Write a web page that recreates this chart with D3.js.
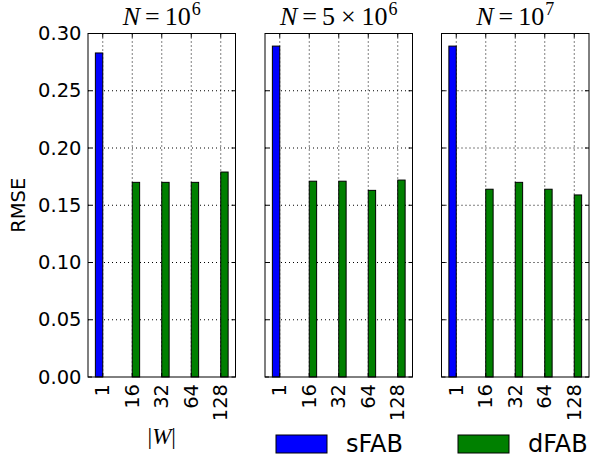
<!DOCTYPE html>
<html>
<head>
<meta charset="utf-8">
<script src="https://cdn.jsdelivr.net/npm/d3@7"></script>
<style>
  html, body { margin: 0; padding: 0; background: #fff; }
  svg { display: block; }
  text { font-family: "DejaVu Sans", sans-serif; fill: #000; }
</style>
</head>
<body>
<svg id="chart" width="592" height="459"></svg>
<script>
// Window sizes |W| on the x axis
const categories = ["1", "16", "32", "64", "128"];

// Panel titles: N = 10^6, N = 5 x 10^6, N = 10^7
const panelMantissa = ["", "5", ""];
const panelExponent = ["6", "6", "7"];

// RMSE per window size, one array per panel
const sFAB = [
  [0.283, 0, 0, 0, 0],
  [0.289, 0, 0, 0, 0],
  [0.289, 0, 0, 0, 0]
];
const dFAB = [
  [0, 0.170, 0.170, 0.170, 0.179],
  [0, 0.171, 0.171, 0.163, 0.172],
  [0, 0.164, 0.170, 0.164, 0.159]
];

const yTicks = [0.00, 0.05, 0.10, 0.15, 0.20, 0.25, 0.30];
const seriesNames = ["sFAB", "dFAB"];
const seriesColors = ["#0000ff", "#008000"];

const svg = d3.select("#chart");
const plotTop = 33.5, plotBottom = 377;
const panelLeft = [88, 265, 441.5];
const panelWidth = 147.5;
const barW = 0.25;

const y = d3.scaleLinear().domain([0, 0.30]).range([plotBottom, plotTop]);

panelLeft.forEach((left, p) => {
  const x = d3.scaleLinear().domain([-0.5, 4.5]).range([left, left + panelWidth]);
  const g = svg.append("g");

  // dotted grid
  g.selectAll("line.hgrid").data(yTicks.slice(1, -1)).join("line")
    .attr("x1", left).attr("x2", left + panelWidth)
    .attr("y1", d => y(d)).attr("y2", d => y(d))
    .attr("stroke", "#000").attr("stroke-width", 1)
    .attr("stroke-dasharray", "1,3");
  g.selectAll("line.vgrid").data(categories).join("line")
    .attr("x1", (d, i) => x(i)).attr("x2", (d, i) => x(i))
    .attr("y1", plotTop).attr("y2", plotBottom)
    .attr("stroke", "#000").attr("stroke-width", 1)
    .attr("stroke-dasharray", "1,3");

  // bars: sFAB left of each tick, dFAB right of it
  [sFAB[p], dFAB[p]].forEach((vals, s) => {
    g.selectAll("rect.s" + s).data(vals).join("rect")
      .attr("x", (d, i) => x(i + (s === 0 ? -barW : 0)))
      .attr("width", x(barW) - x(0))
      .attr("y", d => y(d))
      .attr("height", d => y(0) - y(d))
      .attr("fill", seriesColors[s])
      .attr("stroke", "#000").attr("stroke-width", 1);
  });

  // inward ticks on all four sides
  const tl = 4;
  yTicks.forEach(t => {
    g.append("line").attr("x1", left).attr("x2", left + tl).attr("y1", y(t)).attr("y2", y(t)).attr("stroke", "#000");
    g.append("line").attr("x1", left + panelWidth).attr("x2", left + panelWidth - tl).attr("y1", y(t)).attr("y2", y(t)).attr("stroke", "#000");
  });
  categories.forEach((c, i) => {
    g.append("line").attr("x1", x(i)).attr("x2", x(i)).attr("y1", plotTop).attr("y2", plotTop + tl).attr("stroke", "#000");
    g.append("line").attr("x1", x(i)).attr("x2", x(i)).attr("y1", plotBottom).attr("y2", plotBottom - tl).attr("stroke", "#000");
  });

  // frame
  g.append("rect").attr("x", left).attr("y", plotTop).attr("width", panelWidth).attr("height", plotBottom - plotTop)
    .attr("fill", "none").attr("stroke", "#000").attr("stroke-width", 1);

  // rotated x tick labels
  g.selectAll("text.xt").data(categories).join("text")
    .attr("transform", (d, i) => `translate(${x(i)},${plotBottom + 7}) rotate(-90)`)
    .attr("text-anchor", "end").attr("dominant-baseline", "central")
    .attr("font-size", "19.5px")
    .text(d => d);

  // y tick labels on the first panel only
  if (p === 0) {
    g.selectAll("text.yt").data(yTicks).join("text")
      .attr("x", left - 6.5).attr("y", d => y(d))
      .attr("text-anchor", "end").attr("dominant-baseline", "central")
      .attr("font-size", "19.5px")
      .text(d => d3.format(".2f")(d));
  }

  // panel title
  const title = g.append("text")
    .attr("x", left + panelWidth / 2).attr("y", 25)
    .attr("text-anchor", "middle")
    .style("font-family", "'Liberation Serif', serif")
    .attr("font-size", "26px");
  title.append("tspan").attr("font-style", "italic").text("N");
  title.append("tspan").attr("dx", 5).text("=");
  if (panelMantissa[p]) {
    title.append("tspan").attr("dx", 5).text(panelMantissa[p]);
    title.append("tspan").attr("dx", 6).text("×");
    title.append("tspan").attr("dx", 6).text("10");
  } else {
    title.append("tspan").attr("dx", 5).text("10");
  }
  title.append("tspan").attr("dx", 1).attr("dy", -10).attr("font-size", "18px").text(panelExponent[p]);
});

// y axis label
svg.append("text")
  .attr("transform", `translate(18,${(plotTop + plotBottom) / 2}) rotate(-90)`)
  .attr("text-anchor", "middle").attr("dominant-baseline", "central")
  .attr("font-size", "19.5px")
  .text("RMSE");

// x axis label |W|
const xl = svg.append("text")
  .attr("x", panelLeft[0] + panelWidth / 2).attr("y", 444)
  .attr("text-anchor", "middle")
  .style("font-family", "'Liberation Serif', serif")
  .attr("font-size", "23px");
xl.append("tspan").text("|");
xl.append("tspan").attr("font-style", "italic").text("W");
xl.append("tspan").text("|");

// legend
const legendX = [276, 458];
seriesNames.forEach((name, s) => {
  svg.append("rect")
    .attr("x", legendX[s]).attr("y", 435).attr("width", 51).attr("height", 18)
    .attr("fill", seriesColors[s]).attr("stroke", "#000").attr("stroke-width", 1);
  svg.append("text")
    .attr("x", legendX[s] + 70).attr("y", 444)
    .attr("dominant-baseline", "central")
    .attr("font-size", "24px")
    .text(name);
});
</script>
</body>
</html>
